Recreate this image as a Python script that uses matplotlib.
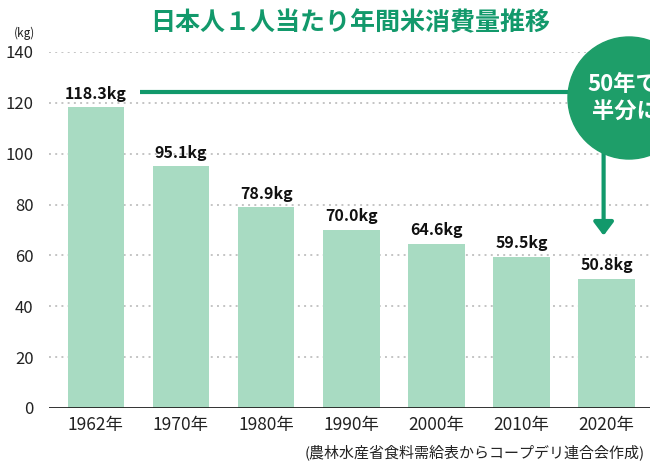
import matplotlib
matplotlib.use("Agg")
import matplotlib.pyplot as plt
from matplotlib.patches import Ellipse

plt.rcParams['font.family'] = ['Noto Sans CJK JP', 'DejaVu Sans']

# データ（農林水産省 食料需給表）
years = ["1962年", "1970年", "1980年", "1990年", "2000年", "2010年", "2020年"]
consumption = [118.3, 95.1, 78.9, 70.0, 64.6, 59.5, 50.8]
yticks = [0, 20, 40, 60, 80, 100, 120, 140]

GREEN = "#12996b"
BAR = "#a8dbc2"

fig = plt.figure(figsize=(6.5, 4.62), dpi=100)
ax = fig.add_axes([49 / 650, 1 - 408 / 462, 1 - 49 / 650, 356 / 462])

x = list(range(len(years)))
ax.bar(x, consumption, width=0.665, color=BAR, zorder=3)

for xi, v in zip(x, consumption):
    ax.text(xi, v + 2.2, f"{v:.1f}kg", ha="center", va="bottom",
            fontsize=11.5, fontweight="bold", color="#111111", zorder=4)

ax.set_xlim(-0.55, 6.51)
ax.set_ylim(0, 140)
ax.set_yticks(yticks)
ax.set_yticklabels([str(t) for t in yticks], fontsize=12, color="#222222")
ax.set_xticks(x)
ax.set_xticklabels(years, fontsize=12.5, color="#222222")
ax.tick_params(axis="both", length=0, pad=6)
ax.tick_params(axis="y", pad=11)

for t in yticks[1:]:
    ax.axhline(t, color="#c4c4c4", linestyle=(0, (1, 2.2)), linewidth=1.4, zorder=1)
ax.axhline(0, color="#222222", linewidth=1.3, zorder=5)

for s in ax.spines.values():
    s.set_visible(False)

# 矢印（最初の値の上から 2020年へ）
y_line = consumption[0] + 6
ax.plot([0.52, 6.6], [y_line, y_line], color=GREEN, linewidth=3, zorder=4,
        solid_capstyle="butt", clip_on=False)
ax.annotate("", xy=(x[-1] - 0.035, consumption[-1] + 17), xytext=(x[-1] - 0.035, y_line),
            arrowprops=dict(arrowstyle="-|>,head_length=0.8,head_width=0.6",
                            color=GREEN, linewidth=3, shrinkA=0, shrinkB=0), zorder=4)

# 円
circ = Ellipse((629 / 650, 1 - 98 / 462), 122 / 650, 122 / 462,
               transform=fig.transFigure, color="#1e9e69", zorder=10)
fig.patches.append(circ)
fig.text(587 / 650, 1 - 85 / 462, "50年で", ha="left", va="center",
         fontsize=16, fontweight="bold", color="white", zorder=11)
fig.text(592 / 650, 1 - 112 / 462, "半分に", ha="left", va="center",
         fontsize=16, fontweight="bold", color="white", zorder=11)

fig.text(350 / 650, 1 - 23 / 462, "日本人１人当たり年間米消費量推移", ha="center",
         va="center", fontsize=18, fontweight="bold", color=GREEN)
fig.text(24 / 650, 1 - 33 / 462, "(kg)", ha="center", va="center",
         fontsize=8.5, color="#222222")
fig.text(645 / 650, 1 - 452 / 462, "(農林水産省食料需給表からコープデリ連合会作成)",
         ha="right", va="center", fontsize=10.8, color="#222222")

fig.savefig("out.png", dpi=100)
